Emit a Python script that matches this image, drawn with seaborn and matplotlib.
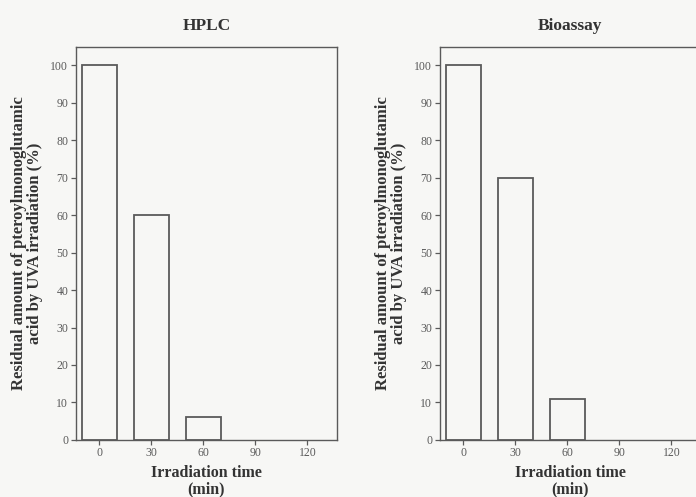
import pandas as pd
import matplotlib.pyplot as plt
import seaborn as sns

# irradiation times (min) and residual amounts (%)
times = [0, 30, 60]
hplc = [100, 60, 6]
bioassay = [100, 70, 11]
x_ticks = [0, 30, 60, 90, 120]
y_ticks = [0, 10, 20, 30, 40, 50, 60, 70, 80, 90, 100]
titles = ["HPLC", "Bioassay"]

sns.set_style("ticks")
plt.rcParams["font.family"] = ["Liberation Serif", "DejaVu Serif"]

ink = "#5a5a5a"
bg = "#f7f7f5"

fig = plt.figure(figsize=(6.96, 4.97), dpi=100, facecolor=bg)
ax1 = fig.add_axes([0.109, 0.115, 0.375, 0.791])
ax2 = fig.add_axes([0.632, 0.115, 0.375, 0.791])

for ax, vals, title in zip([ax1, ax2], [hplc, bioassay], titles):
    df = pd.DataFrame({"time": times, "residual": vals})
    sns.barplot(data=df, x="time", y="residual", native_scale=True, width=2 / 3,
                color=bg, edgecolor=ink, linewidth=1.3, ax=ax)
    for p in ax.patches:
        p.set_facecolor(bg)
    ax.set_facecolor(bg)
    ax.set_xlim(-13.5, 137)
    ax.set_ylim(0, 105)
    ax.set_xticks(x_ticks)
    ax.set_yticks(y_ticks)
    ax.tick_params(labelsize=8.5, colors=ink, length=3.5, width=0.9, pad=2)
    for s in ax.spines.values():
        s.set_color(ink)
        s.set_linewidth(1.0)
    ax.set_title(title, fontsize=12.5, fontweight="bold", color="#333333", pad=12)
    ax.set_xlabel("Irradiation time\n(min)", fontsize=11.5, fontweight="bold",
                  color="#333333", labelpad=4, linespacing=1.05)
    ax.set_ylabel("Residual amount of pteroylmonoglutamic\nacid by UVA irradiation (%)",
                  fontsize=12, fontweight="bold", color="#333333", labelpad=5,
                  linespacing=1.05)

fig.savefig("out.png", dpi=100, facecolor=bg)
